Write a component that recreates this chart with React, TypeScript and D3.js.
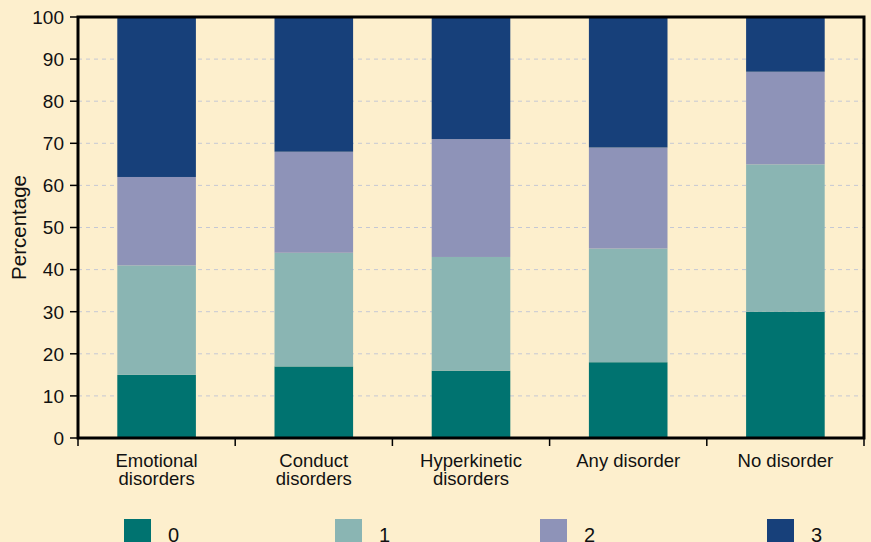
import React from "react";
import * as d3 from "d3";

const categories = ["Emotional disorders", "Conduct disorders", "Hyperkinetic disorders", "Any disorder", "No disorder"];
const categoryLines = [["Emotional", "disorders"], ["Conduct", "disorders"], ["Hyperkinetic", "disorders"], ["Any disorder"], ["No disorder"]];
const seriesKeys = ["0", "1", "2", "3"];
const series0 = [15, 17, 16, 18, 30];
const series1 = [26, 27, 27, 27, 35];
const series2 = [21, 24, 28, 24, 22];
const series3 = [38, 32, 29, 31, 13];
const yTicks = [0, 10, 20, 30, 40, 50, 60, 70, 80, 90, 100];
const colors = ["#007370", "#8ab5b3", "#8e93b8", "#17407a"];

const W = 871, H = 542;
const left = 78, right = 864, top = 17, bottom = 438;
const font = "'Liberation Sans', Arial, sans-serif";

export default function App() {
  const x = d3.scaleBand().domain(categories).range([left, right]).paddingInner(0.5).paddingOuter(0.25);
  const xOuter = d3.scaleBand().domain(categories).range([left, right]);
  const y = d3.scaleLinear().domain([0, 100]).range([bottom, top]);
  const rows = categories.map((c, i) => ({ cat: c, "0": series0[i], "1": series1[i], "2": series2[i], "3": series3[i] }));
  const stacked = d3.stack<any>().keys(seriesKeys)(rows);
  const legendSquareX = [124, 335, 540, 767];
  return (
    <svg width={W} height={H} style={{ position: "absolute", left: 0, top: 0, background: "#fdefcd" }} fontFamily={font}>
      <rect x={0} y={0} width={W} height={H} fill="#fdefcd" />
      {yTicks.filter(t => t > 0 && t < 100).map(t => (
        <line key={t} x1={left} x2={right} y1={y(t)} y2={y(t)} stroke="#c5c8d4" strokeWidth={1} strokeDasharray="4 4" />
      ))}
      {stacked.map((s, si) => (
        <g key={si} fill={colors[si]}>
          {s.map((d, i) => (
            <rect key={i} x={x(categories[i])} width={x.bandwidth()} y={y(d[1])} height={y(d[0]) - y(d[1])} />
          ))}
        </g>
      ))}
      <path d={`M${left},${bottom} V${top} H${right} V${bottom} Z`} fill="none" stroke="#000" strokeWidth={3} />
      {yTicks.map(t => (
        <g key={t}>
          <line x1={left - 8} x2={left} y1={y(t)} y2={y(t)} stroke="#000" strokeWidth={1.5} />
          <text x={64} y={y(t)} dy="0.36em" textAnchor="end" fontSize={19} fill="#111">{t}</text>
        </g>
      ))}
      {[...categories.map(c => xOuter(c)!), right].map((xv, i) => (
        <line key={i} x1={xv} x2={xv} y1={bottom} y2={bottom + 8} stroke="#000" strokeWidth={1.5} />
      ))}
      {categories.map((c, i) => (
        <text key={c} x={x(c)! + x.bandwidth() / 2} y={466.5} textAnchor="middle" fontSize={18.5} fill="#111">
          {categoryLines[i].map((l, j) => (
            <tspan key={j} x={x(c)! + x.bandwidth() / 2} dy={j === 0 ? 0 : 18}>{l}</tspan>
          ))}
        </text>
      ))}
      <text transform={`translate(26,${(top + bottom) / 2}) rotate(-90)`} textAnchor="middle" fontSize={20.5} fill="#111">Percentage</text>
      {seriesKeys.map((k, i) => (
        <g key={k}>
          <rect x={legendSquareX[i]} y={519} width={27} height={27} fill={colors[i]} />
          <text x={legendSquareX[i] + 44} y={542} fontSize={20} fill="#111">{k}</text>
        </g>
      ))}
    </svg>
  );
}
